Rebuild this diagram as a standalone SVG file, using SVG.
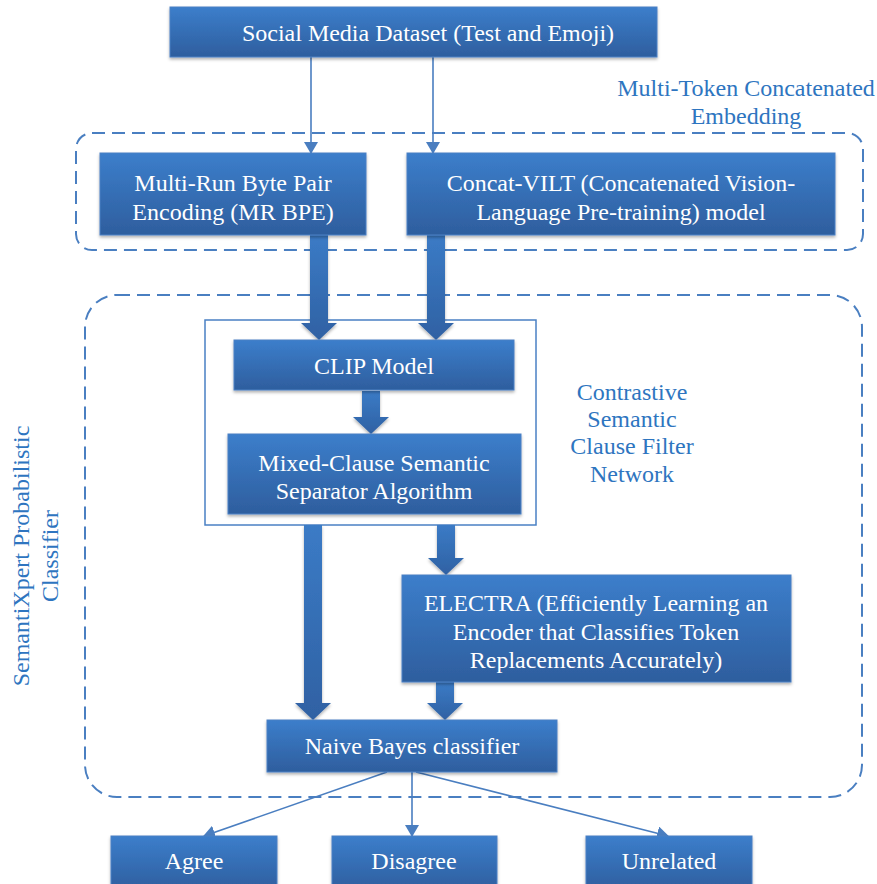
<svg xmlns="http://www.w3.org/2000/svg" width="877" height="884" viewBox="0 0 877 884">
<defs>
<linearGradient id="gBox" x1="0" y1="0" x2="0" y2="1">
<stop offset="0" stop-color="#3C7ECB"/>
<stop offset="1" stop-color="#2E5E9E"/>
</linearGradient>
<linearGradient id="gArr" x1="0" y1="0" x2="0" y2="1">
<stop offset="0" stop-color="#3B7BC6"/>
<stop offset="1" stop-color="#2F61A3"/>
</linearGradient>
<filter id="sh" x="-10%" y="-10%" width="120%" height="130%">
<feDropShadow dx="0" dy="2" stdDeviation="1.5" flood-color="#000" flood-opacity="0.3"/>
</filter>
<marker id="ah" viewBox="0 0 12 14" refX="11" refY="7" markerWidth="12" markerHeight="14" markerUnits="userSpaceOnUse" orient="auto">
<path d="M0,0 L12,7 L0,14 Z" fill="#4A7EC0"/>
</marker>
<style>
.box{fill:url(#gBox);stroke:#4A80C4;stroke-width:1;filter:url(#sh)}
.t{font-family:"Liberation Serif","Times New Roman",serif;font-size:24px;fill:#fff;text-anchor:middle}
.lbl{font-family:"Liberation Serif","Times New Roman",serif;font-size:24px;fill:#2E75C0;text-anchor:middle}
.dash{fill:none;stroke:#4A7FC1;stroke-width:2;stroke-dasharray:13 7}
.thin{fill:none;stroke:#4A7EC0;stroke-width:1.6;marker-end:url(#ah)}
.fat{fill:url(#gArr);filter:url(#sh)}
</style>
</defs>

<g id="groups">
<rect class="dash" x="76" y="133" width="787" height="117" rx="16"/>
<rect class="dash" x="85" y="295" width="777" height="502" rx="32"/>
<rect id="frame" x="205" y="320" width="331" height="205" fill="none" stroke="#4A80C4" stroke-width="1.5"/>
<text class="lbl" x="746" y="96">Multi-Token Concatenated</text>
<text class="lbl" x="746" y="124">Embedding</text>
<text class="lbl" x="632" y="400">Contrastive</text>
<text class="lbl" x="632" y="427">Semantic</text>
<text class="lbl" x="632" y="454">Clause Filter</text>
<text class="lbl" x="632" y="482">Network</text>
<g transform="translate(0,556) rotate(-90)">
<text class="lbl" x="0" y="29">SemantiXpert Probabilistic</text>
<text class="lbl" x="0" y="58">Classifier</text>
</g>
</g>

<g id="connectors">
<line class="thin" x1="311" y1="57" x2="311" y2="153"/>
<line class="thin" x1="433" y1="57" x2="433" y2="153"/>
<path class="fat" d="M310,235 H328 V323 H337 L319,340 L301,323 H310 Z"/>
<path class="fat" d="M427,235 H445 V323 H454 L436,340 L418,323 H427 Z"/>
<path class="fat" d="M362,391 H380 V417 H389 L371,434 L353,417 H362 Z"/>
<path class="fat" d="M304,525 H322 V703 H331 L313,720 L295,703 H304 Z"/>
<path class="fat" d="M437,525 H455 V558 H464 L446,575 L428,558 H437 Z"/>
<path class="fat" d="M436,682 H454 V703 H463 L445,720 L427,703 H436 Z"/>
<line class="thin" x1="387" y1="772" x2="204" y2="836"/>
<line class="thin" x1="412" y1="772" x2="412" y2="836"/>
<line class="thin" x1="416" y1="772" x2="668" y2="836"/>
</g>

<g id="n-dataset"><rect class="box" x="170" y="7" width="487" height="50"/><text class="t" x="428" y="41">Social Media Dataset (Test and Emoji)</text></g>
<g id="n-mrbpe"><rect class="box" x="100" y="153" width="266" height="82"/><text class="t" x="233" y="191">Multi-Run Byte Pair</text><text class="t" x="233" y="220">Encoding (MR BPE)</text></g>
<g id="n-concat"><rect class="box" x="407" y="153" width="428" height="82"/><text class="t" x="621" y="191">Concat-VILT (Concatenated Vision-</text><text class="t" x="621" y="220">Language Pre-training) model</text></g>
<g id="n-clip"><rect class="box" x="234" y="340" width="280" height="50"/><text class="t" x="374" y="374">CLIP Model</text></g>
<g id="n-mixed"><rect class="box" x="228" y="434" width="293" height="80"/><text class="t" x="374" y="471">Mixed-Clause Semantic</text><text class="t" x="374" y="499">Separator Algorithm</text></g>
<g id="n-electra"><rect class="box" x="402" y="575" width="389" height="107"/><text class="t" x="596" y="611">ELECTRA (Efficiently Learning an</text><text class="t" x="596" y="640">Encoder that Classifies Token</text><text class="t" x="596" y="668">Replacements Accurately)</text></g>
<g id="n-nb"><rect class="box" x="267" y="720" width="290" height="52"/><text class="t" x="412" y="754">Naive Bayes classifier</text></g>
<g id="n-agree"><rect class="box" x="111" y="836" width="166" height="55"/><text class="t" x="194" y="869">Agree</text></g>
<g id="n-disagree"><rect class="box" x="332" y="836" width="165" height="55"/><text class="t" x="414" y="869">Disagree</text></g>
<g id="n-unrelated"><rect class="box" x="586" y="836" width="166" height="55"/><text class="t" x="669" y="869">Unrelated</text></g>
</svg>
